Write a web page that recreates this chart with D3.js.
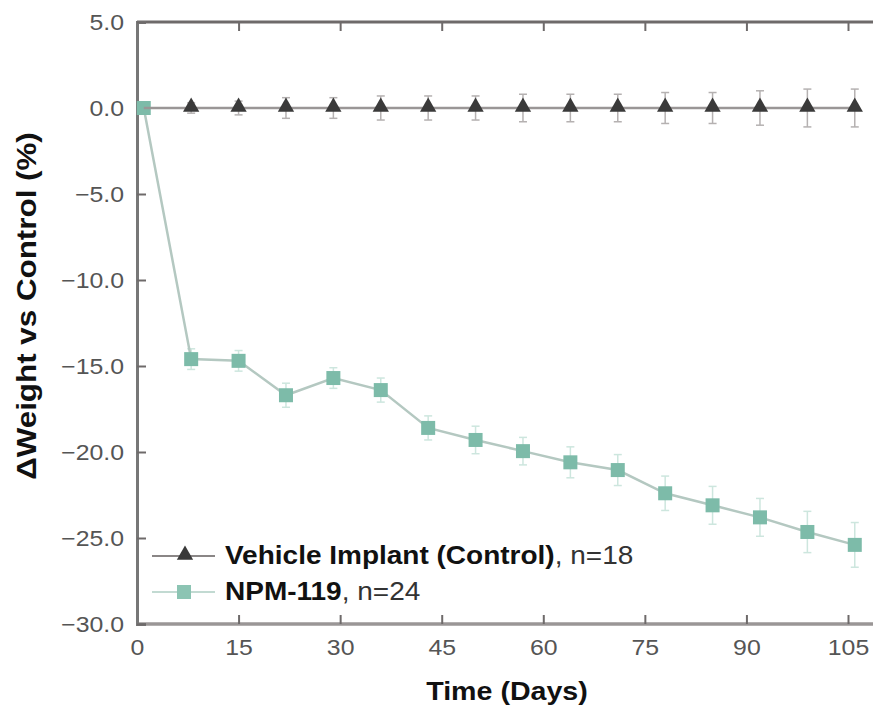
<!DOCTYPE html>
<html>
<head>
<meta charset="utf-8">
<script src="https://cdn.jsdelivr.net/npm/d3@7"></script>
<style>
html,body{margin:0;padding:0;background:#fff;}
svg{display:block;font-family:"Liberation Sans",Arial,sans-serif;}
</style>
</head>
<body>
<svg id="chart" width="873" height="708"></svg>
<script>
const days = [1, 8, 15, 22, 29, 36, 43, 50, 57, 64, 71, 78, 85, 92, 99, 106];
const controlValues = [0, 0, 0, 0, 0, 0, 0, 0, 0, 0, 0, 0, 0, 0, 0, 0];
const controlErrors = [0, 0.3, 0.4, 0.6, 0.6, 0.7, 0.7, 0.7, 0.8, 0.8, 0.8, 0.9, 0.9, 1.0, 1.1, 1.1];
const npmValues = [0, -14.6, -14.7, -16.7, -15.7, -16.4, -18.6, -19.3, -19.95, -20.6, -21.05, -22.4, -23.1, -23.8, -24.65, -25.4];
const npmErrors = [0, 0.6, 0.6, 0.7, 0.6, 0.7, 0.7, 0.8, 0.8, 0.9, 0.9, 1.0, 1.1, 1.1, 1.2, 1.3];
const xTicks = [0, 15, 30, 45, 60, 75, 90, 105];
const yTicks = [5, 0, -5, -10, -15, -20, -25, -30];
const seriesNames = ["Vehicle Implant (Control)", "NPM-119"];
const seriesN = [", n=18", ", n=24"];

(function () {
const svg = d3.select("#chart");
const plotLeft = 137, plotTop = 22, plotBottom = 624;
const x = d3.scaleLinear().domain([0, 105]).range([plotLeft, 848]);
const y = d3.scaleLinear().domain([-30, 5]).range([plotBottom, plotTop]);
const rightEdge = 873;
const sx = 1.13; // horizontal stretch of the text, as in the reference

const axisColor = "#6e6a6a";
const tickLabelColor = "#555";

// frame lines
svg.append("line").attr("x1", plotLeft).attr("x2", rightEdge).attr("y1", plotTop).attr("y2", plotTop)
  .attr("stroke", axisColor).attr("stroke-width", 3);
svg.append("line").attr("x1", plotLeft).attr("x2", rightEdge).attr("y1", plotBottom).attr("y2", plotBottom)
  .attr("stroke", "#9a9696").attr("stroke-width", 3.5);

// bottom axis
const xAxis = d3.axisBottom(x).tickValues(xTicks).tickSize(-9).tickPadding(15).tickFormat(d3.format("d"));
const gx = svg.append("g").attr("transform", `translate(0,${plotBottom})`).call(xAxis);
gx.select(".domain").remove();
gx.selectAll(".tick line").attr("stroke", axisColor).attr("stroke-width", 2);
gx.selectAll(".tick text").attr("fill", tickLabelColor).attr("font-size", 22)
  .attr("font-family", "Liberation Sans, Arial, sans-serif")
  .attr("transform", `scale(${sx},1)`);

// top mirrored ticks
const gxTop = svg.append("g").attr("transform", `translate(0,${plotTop})`)
  .call(d3.axisTop(x).tickValues(xTicks).tickSize(-9).tickFormat(""));
gxTop.select(".domain").remove();
gxTop.selectAll(".tick line").attr("stroke", axisColor).attr("stroke-width", 2);

// left axis
const yAxis = d3.axisLeft(y).tickValues(yTicks).tickSize(-9).tickPadding(0)
  .tickFormat(d => d3.format(".1f")(d).replace("-", "\u2212"));
const gy = svg.append("g").attr("transform", `translate(${plotLeft},0)`).call(yAxis);
gy.select(".domain").attr("stroke", "#777").attr("stroke-width", 3);
gy.selectAll(".tick line").attr("stroke", axisColor).attr("stroke-width", 2);
gy.selectAll(".tick text").attr("fill", tickLabelColor).attr("font-size", 22)
  .attr("font-family", "Liberation Sans, Arial, sans-serif")
  .attr("x", -13 / sx)
  .attr("transform", `scale(${sx},1)`);

// data helpers
const ctrl = days.map((d, i) => ({d, v: controlValues[i], e: controlErrors[i]}));
const npm = days.map((d, i) => ({d, v: npmValues[i], e: npmErrors[i]}));
const line = d3.line().x(p => x(p.d)).y(p => y(p.v));

function errorBars(data, color) {
  const g = svg.append("g");
  data.filter(p => p.e > 0).forEach(p => {
    g.append("line").attr("x1", x(p.d)).attr("x2", x(p.d)).attr("y1", y(p.v + p.e)).attr("y2", y(p.v - p.e))
      .attr("stroke", color).attr("stroke-width", 1.5);
    [p.v + p.e, p.v - p.e].forEach(v => {
      g.append("line").attr("x1", x(p.d) - 4).attr("x2", x(p.d) + 4).attr("y1", y(v)).attr("y2", y(v))
        .attr("stroke", color).attr("stroke-width", 1.5);
    });
  });
}

// NPM series
errorBars(npm, "#cde6de");
svg.append("path").datum(npm).attr("d", line).attr("fill", "none").attr("stroke", "#b4c8c1").attr("stroke-width", 2.5);
svg.append("g").selectAll("rect").data(npm).join("rect")
  .attr("x", p => x(p.d) - 7).attr("y", p => y(p.v) - 7).attr("width", 14).attr("height", 14)
  .attr("fill", "#7dbba9");

// Control series
errorBars(ctrl, "#b5b1b1");
svg.append("path").datum(ctrl).attr("d", line).attr("fill", "none").attr("stroke", "#9a9696").attr("stroke-width", 2.5);
const tri = d3.symbol().type(d3.symbolTriangle).size(115);
svg.append("g").selectAll("path").data(ctrl.slice(1)).join("path")
  .attr("d", tri).attr("transform", p => `translate(${x(p.d)},${y(p.v) - 1})`)
  .attr("fill", "#3a3a3a");

// Legend
const legend = svg.append("g");
const legY = [556, 592];
legend.append("line").attr("x1", 152).attr("x2", 215).attr("y1", legY[0]).attr("y2", legY[0]).attr("stroke", "#8a8686").attr("stroke-width", 2);
legend.append("path").attr("d", tri).attr("transform", `translate(185,${legY[0] - 1})`).attr("fill", "#3a3a3a");
legend.append("line").attr("x1", 152).attr("x2", 215).attr("y1", legY[1]).attr("y2", legY[1]).attr("stroke", "#c2dad2").attr("stroke-width", 2);
legend.append("rect").attr("x", 177).attr("y", legY[1] - 7).attr("width", 14).attr("height", 14).attr("fill", "#8cc4b3");
seriesNames.forEach((name, i) => {
  const t = legend.append("text")
    .attr("transform", `translate(225,${legY[i] + 8}) scale(1.12,1)`)
    .attr("font-size", 25).attr("fill", "#111");
  t.append("tspan").attr("font-weight", "bold").text(name);
  t.append("tspan").attr("fill", "#333").text(seriesN[i]);
});

// axis titles
svg.append("text").attr("transform", "translate(507,700) scale(1.1,1)").attr("text-anchor", "middle")
  .attr("font-size", 26).attr("font-weight", "bold").attr("fill", "#111").text("Time (Days)");
svg.append("text").attr("transform", "translate(36,306) rotate(-90) scale(1.12,1)").attr("text-anchor", "middle")
  .attr("font-size", 28).attr("font-weight", "bold").attr("fill", "#111").text("\u0394Weight vs Control (%)");
})();
</script>
</body>
</html>
